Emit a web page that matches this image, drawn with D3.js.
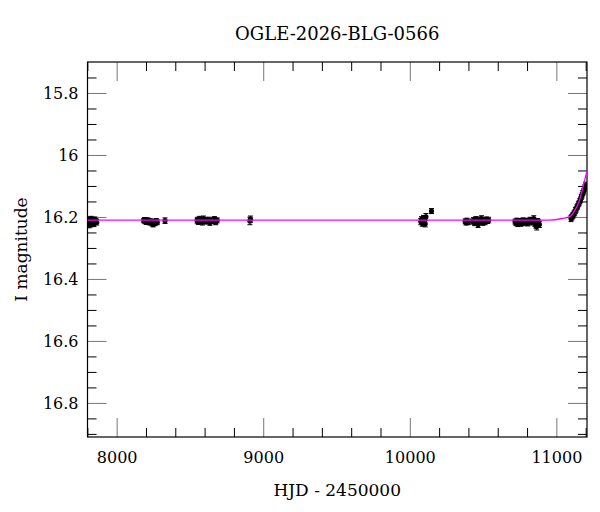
<!DOCTYPE html>
<html>
<head>
<meta charset="utf-8">
<script src="https://cdn.jsdelivr.net/npm/d3@7"></script>
<style>
  body { margin: 0; background: #fff; }
  svg text { font-family: "DejaVu Serif", serif; fill: #000; }
</style>
</head>
<body>
<script>
// chart size
const width = 600;
const height = 512;
const margin = { top: 62, right: 13, bottom: 75, left: 87.5 };

const title = "OGLE-2026-BLG-0566";
const xTitle = "HJD - 2450000";
const yTitle = "I magnitude";

// tick labels
const xMajor = [8000, 9000, 10000, 11000];
const yMajor = [15.8, 16, 16.2, 16.4, 16.6, 16.8];

// observations: [HJD - 2450000, I mag, error]
const season1 = [
  [7803,16.214,.008],[7805,16.207,.007],[7807,16.221,.009],[7809,16.211,.007],[7811,16.216,.008],
  [7813,16.226,.009],[7815,16.209,.007],[7818,16.218,.008],[7820,16.212,.007],[7823,16.223,.009],
  [7826,16.206,.008],[7829,16.215,.007],[7832,16.219,.008],[7836,16.210,.008],[7840,16.214,.007],
  [7845,16.222,.009],[7851,16.208,.008],[7858,16.213,.008],[7864,16.217,.009]
];
const season2 = [
  [8185,16.212,.007],[8190,16.209,.007],[8194,16.214,.008],[8198,16.211,.007],[8203,16.216,.008],
  [8208,16.213,.007],[8213,16.210,.007],[8219,16.215,.008],[8226,16.218,.008],[8233,16.213,.007],
  [8241,16.220,.009],[8249,16.224,.008],[8256,16.216,.008],[8263,16.219,.009],[8270,16.213,.008],
  [8277,16.217,.008],[8330,16.212,.009]
];
const season3 = [
  [8549,16.212,.008],[8553,16.208,.007],[8557,16.216,.008],[8561,16.211,.007],[8566,16.206,.008],
  [8574,16.214,.008],[8580,16.210,.007],[8585,16.217,.009],[8592,16.205,.008],[8604,16.212,.008],
  [8612,16.215,.008],[8620,16.208,.007],[8628,16.213,.008],[8636,16.218,.009],[8650,16.209,.008],
  [8660,16.214,.008],[8668,16.207,.008],[8676,16.216,.009],[8686,16.211,.008],
  [8909,16.213,.012],[8913,16.207,.010]
];
const season4 = [
  [10075,16.215,.010],[10080,16.208,.009],[10085,16.220,.010],[10089,16.212,.009],[10093,16.205,.010],
  [10097,16.217,.009],[10101,16.210,.009],[10105,16.222,.010],[10110,16.200,.011],[10148,16.181,.008]
];
const season5 = [
  [10378,16.214,.008],[10384,16.218,.008],[10390,16.212,.008],[10398,16.216,.009],[10428,16.215,.008],
  [10435,16.210,.008],[10442,16.219,.009],[10450,16.207,.008],[10458,16.213,.009],[10466,16.224,.010],
  [10474,16.209,.009],[10482,16.215,.008],[10490,16.205,.009],[10498,16.218,.009],[10506,16.211,.008],
  [10514,16.216,.009],[10522,16.208,.008],[10530,16.213,.008],[10538,16.210,.009]
];
const season6 = [
  [10718,16.215,.008],[10724,16.219,.009],[10730,16.212,.008],[10737,16.222,.009],[10744,16.216,.008],
  [10751,16.213,.008],[10758,16.221,.009],[10765,16.217,.008],[10772,16.211,.008],[10780,16.219,.009],
  [10788,16.214,.008],[10796,16.212,.008],[10805,16.220,.009],[10813,16.215,.008],[10821,16.209,.008],
  [10830,16.217,.009],[10838,16.212,.008],[10846,16.205,.009],[10853,16.220,.010],[10860,16.226,.010],
  [10866,16.231,.011],[10872,16.214,.009],[10878,16.218,.009],[10884,16.224,.010]
];
const season7 = [
  [11100,16.205,.010],[11105,16.201,.009],[11110,16.197,.009],[11115,16.194,.009],[11120,16.189,.008],
  [11125,16.186,.008],[11130,16.179,.009],[11135,16.176,.008],[11140,16.169,.008],[11145,16.166,.008],
  [11150,16.159,.008],[11155,16.156,.008],[11160,16.149,.008],[11165,16.144,.008],[11170,16.136,.008],
  [11175,16.131,.008],[11180,16.123,.008],[11185,16.118,.008],[11190,16.109,.008],[11195,16.104,.008],
  [11199,16.097,.009]
];

// model curve: [HJD - 2450000, I mag]
const model = [
  [7801,16.21],[10950,16.21],[11040,16.205],[11090,16.199],[11128,16.177],
  [11159,16.145],[11182,16.102],[11209,16.051]
];

const obs = [].concat(season1, season2, season3, season4, season5, season6, season7);

const svg = d3.select("body").append("svg")
  .attr("width", width)
  .attr("height", height);

const iw = width - margin.left - margin.right;
const ih = height - margin.top - margin.bottom;

const x = d3.scaleLinear().domain([7801, 11209]).range([margin.left, margin.left + iw]);
const y = d3.scaleLinear().domain([15.7, 16.91]).range([margin.top, margin.top + ih]);

const xMinor = d3.range(7800, 11201, 200).filter(v => !xMajor.includes(v));
const yMinor = d3.range(15.75, 16.91, 0.05).map(v => +v.toFixed(2))
  .filter(v => !yMajor.some(m => Math.abs(m - v) < 1e-6));

const g = svg.append("g");

// plot clipping so marks stay inside the frame
svg.append("clipPath").attr("id", "clip")
  .append("rect")
  .attr("x", margin.left).attr("y", margin.top)
  .attr("width", iw).attr("height", ih);

// ticks: majors grey and long, minors black and short, pointing inward on all sides
function ticks(axis, transform, values, size, color, labels) {
  const a = axis.tickValues(values).tickSize(-size).tickPadding(labels ? 9 : 0)
    .tickFormat(labels ? (d => d) : "");
  const sel = g.append("g").attr("transform", transform).call(a);
  sel.select(".domain").remove();
  sel.selectAll("line").attr("stroke", color).attr("stroke-width", 1);
  sel.selectAll("text").style("font-size", "16px").attr("font-family", null);
  return sel;
}

const L = `translate(${margin.left},0)`;
const R = `translate(${margin.left + iw},0)`;
const T = `translate(0,${margin.top})`;
const B = `translate(0,${margin.top + ih})`;

ticks(d3.axisLeft(y), L, yMinor, 9, "#000", false);
ticks(d3.axisRight(y), R, yMinor, 9, "#000", false);
ticks(d3.axisTop(x), T, xMinor, 9, "#000", false);
ticks(d3.axisBottom(x), B, xMinor, 9, "#000", false);
ticks(d3.axisLeft(y), L, yMajor, 19, "#777", true);
ticks(d3.axisRight(y), R, yMajor, 19, "#777", false);
ticks(d3.axisTop(x), T, xMajor, 19, "#777", false);
ticks(d3.axisBottom(x), B, xMajor, 19, "#777", true)
  .selectAll("text").attr("dy", "1.05em");

// frame
g.append("rect")
  .attr("x", margin.left).attr("y", margin.top)
  .attr("width", iw).attr("height", ih)
  .attr("fill", "none").attr("stroke", "#000").attr("stroke-width", 1.2);

const plot = svg.append("g").attr("clip-path", "url(#clip)");

// error bars
const eb = plot.append("g").attr("stroke", "#000").attr("stroke-width", 1);
eb.selectAll("line.bar").data(obs).enter().append("line")
  .attr("x1", d => x(d[0])).attr("x2", d => x(d[0]))
  .attr("y1", d => y(d[1] - d[2])).attr("y2", d => y(d[1] + d[2]));
eb.selectAll("line.capt").data(obs).enter().append("line")
  .attr("x1", d => x(d[0]) - 2.5).attr("x2", d => x(d[0]) + 2.5)
  .attr("y1", d => y(d[1] - d[2])).attr("y2", d => y(d[1] - d[2]));
eb.selectAll("line.capb").data(obs).enter().append("line")
  .attr("x1", d => x(d[0]) - 2.5).attr("x2", d => x(d[0]) + 2.5)
  .attr("y1", d => y(d[1] + d[2])).attr("y2", d => y(d[1] + d[2]));

// points
plot.append("g").selectAll("circle").data(obs).enter().append("circle")
  .attr("cx", d => x(d[0])).attr("cy", d => y(d[1]))
  .attr("r", 2.6).attr("fill", "#000");

// model
const line = d3.line().x(d => x(d[0])).y(d => y(d[1])).curve(d3.curveMonotoneX);
plot.append("path").datum(model)
  .attr("d", line)
  .attr("fill", "none").attr("stroke", "#ff00ff").attr("stroke-width", 1.3);

// titles
svg.append("text")
  .attr("x", margin.left + iw / 2).attr("y", 40)
  .attr("text-anchor", "middle").style("font-size", "18px")
  .text(title);

svg.append("text")
  .attr("x", margin.left + iw / 2).attr("y", 496)
  .attr("text-anchor", "middle").style("font-size", "17px")
  .text(xTitle);

svg.append("text")
  .attr("transform", `translate(27,${margin.top + ih / 2}) rotate(-90)`)
  .attr("text-anchor", "middle").style("font-size", "17px")
  .text(yTitle);
</script>
</body>
</html>
